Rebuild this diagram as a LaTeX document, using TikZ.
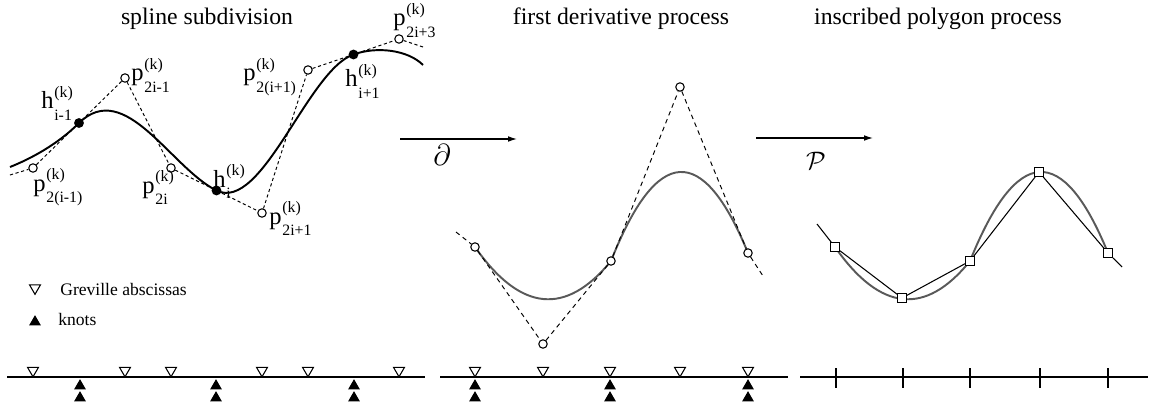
\documentclass[tikz,border=0pt]{standalone}
\usepackage{fontspec}
\setmainfont{Liberation Serif}
\usetikzlibrary{calc,shapes.geometric,arrows.meta}
\pgfdeclarelayer{back}
\pgfsetlayers{back,main}
\newcommand{\lsz}{\fontsize{9}{9}\selectfont}
\newcommand{\cpt}[2]{#1\kern0.4pt\makebox[0pt][l]{\raisebox{6.5pt}{\lsz(k)}}\raisebox{-6.5pt}{\lsz#2}}
\tikzset{
  cp/.style={circle,draw=black,fill=white,inner sep=0pt,minimum size=4.8pt,line width=0.6pt},
  hk/.style={circle,fill=black,inner sep=0pt,minimum size=5.6pt},
  sq/.style={rectangle,draw=black,fill=white,inner sep=0pt,minimum size=5pt,line width=0.6pt},
  gv/.style={regular polygon,regular polygon sides=3,shape border rotate=180,draw=black,fill=white,inner sep=0pt,minimum size=7.2pt,line width=0.6pt},
  kt/.style={regular polygon,regular polygon sides=3,fill=black,inner sep=0pt,minimum size=7.8pt},
  lab/.style={anchor=base west,inner sep=0pt,font=\fontsize{14}{14}\selectfont},
  ttl/.style={anchor=base,inner sep=0pt,font=\fontsize{13.5}{16}\selectfont},
  leg/.style={anchor=base west,inner sep=0pt,font=\fontsize{10}{12}\selectfont},
}
\tikzset{ctrl/.style={draw=black,line width=0.55pt,dash pattern=on 1.8pt off 1.5pt}, dctrl/.style={draw=black,line width=0.55pt,dash pattern=on 2.6pt off 2.2pt},
  spl/.style={draw=black,line width=1.1pt}, gspl/.style={draw=black!65,line width=1.1pt}, axis/.style={draw=black,line width=0.7pt}, arr/.style={draw=black,line width=0.7pt,-{Latex[length=5pt,width=3.2pt]}}}

\begin{document}
\begin{tikzpicture}[x=0.02cm,y=-0.02cm]
\useasboundingbox (0,0) rectangle (1149,412);
\node[ttl](t1) at (207,25){spline subdivision};\node[ttl](t2) at (621,25){first derivative process};\node[ttl](t3) at (938,25){inscribed polygon process};
\node[cp](p1) at (33,168){};\node[cp](p2) at (125,78){};\node[cp](p3) at (171,168){};\node[cp](p4) at (262,213){};\node[cp](p5) at (308,70){};\node[cp](p6) at (399,39){};
\node[hk](h1) at ($(p1)!0.5!(p2)$){};\node[hk](h2) at ($(p3)!0.5!(p4)$){};\node[hk](h3) at ($(p5)!0.5!(p6)$){};
\coordinate (e0) at (10,175);\coordinate (e1) at (423,47);\coordinate (s0) at (10,167);\coordinate (s1) at (423,65);
\draw[ctrl] (e0)--(p1)--(p2)--(p3)--(p4)--(p5)--(p6)--(e1);
\draw[spl] (s0) .. controls (30,159) and (57,145) .. (h1.center) .. controls (p2.center) and (p3.center) .. (h2.center) .. controls (p4.center) and (p5.center) .. (h3.center) .. controls (377,46) and (408,50) .. (s1);
\node[lab](h1l) at (41,109){\cpt{h}{i-1}};\node[lab](p2l) at (131,81){\cpt{p}{2i-1}};\node[lab](p1l) at (33,191){\cpt{p}{2(i-1)}};
\node[lab](p3l) at (142,193){\cpt{p}{2i}};\node[lab](h2l) at (213,187){\cpt{h}{i}};\node[lab](p4l) at (269,224){\cpt{p}{2i+1}};
\node[lab](p5l) at (243,81){\cpt{p}{2(i+1)}};\node[lab](h3l) at (345,87){\cpt{h}{i+1}};\node[lab](p6l) at (393,26){\cpt{p}{2i+3}};
\node[gv](lg) at (35,288){};\node[kt](lk) at (35,322){};
\node[leg](lgt) at (60,295){Greville abscissas};\node[leg](lkt) at (58,325){knots};
\draw[axis] (7,377)--(425,377);\draw[axis] (440,377)--(788,377);\draw[axis] (800,377)--(1148,377);
\foreach \x in {33,125,171,262,308,399,475,543,610,680,748} \node[gv](g\x) at (\x,370.5){};
\foreach \x in {80,216,354,475,610,748} {\node[kt](ka\x) at (\x,386){};\node[kt](kb\x) at (\x,398){};}
\foreach \x in {836,903,970,1040,1108} \draw[axis] (\x,368)--(\x,388);
\coordinate (a0) at (400,139);\coordinate (a1) at (517,139);\draw[arr] (a0)--(a1);
\node(dl) at (442,155){\fontsize{19}{19}\selectfont$\partial$};
\coordinate (b0) at (756,138);\coordinate (b1) at (873,138);\draw[arr] (b0)--(b1);
\node(pl) at (816,161){\fontsize{14}{14}\selectfont$\mathcal{P}$};
\node[cp](d1) at (475,247){};\node[cp](d2) at (543,344){};\node[cp](d3) at (611,261){};\node[cp](d4) at (680,87){};\node[cp](d5) at (748,253){};
\coordinate (f0) at (456,232);\coordinate (f1) at (763,276);
\draw[dctrl] (f0)--(d1)--(d2)--(d3)--(d4)--(d5)--(f1);
\begin{pgfonlayer}{back}
\draw[gspl] (d1.center) .. controls ($(d1.center)!2/3!(d2.center)$) and ($(d3.center)!2/3!(d2.center)$) .. (d3.center) .. controls ($(d3.center)!2/3!(d4.center)$) and ($(d5.center)!2/3!(d4.center)$) .. (d5.center);
\end{pgfonlayer}
\node[sq](q1) at (835,247){};\node[sq](q2) at (902,298){};\node[sq](q3) at (970,261){};\node[sq](q4) at (1039,172){};\node[sq](q5) at (1108,253){};
\coordinate (m1) at (903,344);\coordinate (m2) at (1040,87);\coordinate (r0) at (817,224);\coordinate (r1) at (1122,267);
\draw[black,line width=0.6pt] (r0)--(q1)--(q2)--(q3)--(q4)--(q5)--(r1);
\begin{pgfonlayer}{back}
\draw[gspl] (q1.center) .. controls ($(q1.center)!2/3!(m1)$) and ($(q3.center)!2/3!(m1)$) .. (q3.center) .. controls ($(q3.center)!2/3!(m2)$) and ($(q5.center)!2/3!(m2)$) .. (q5.center);
\end{pgfonlayer}
\end{tikzpicture}
\end{document}
